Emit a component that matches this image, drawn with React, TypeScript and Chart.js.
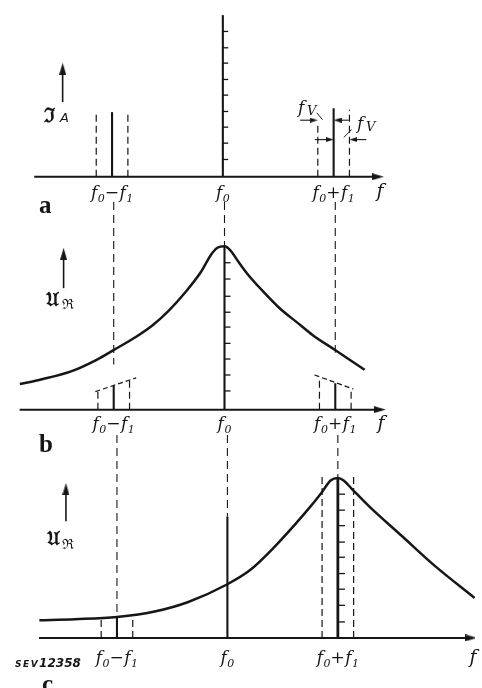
import React, { useEffect, useRef } from "react";
import { Chart, registerables } from "chart.js";

Chart.register(...registerables);

const W = 482;
const H = 688;
const INK = "#161616";

// ---------- data (frequencies in units of f_V, f0 = 0) ----------
const F1 = 7;
const FV = 1;
const centerFreqs = [-F1, 0, F1];
const sideFreqs = [-F1 - FV, -F1 + FV, F1 - FV, F1 + FV];
const freqTickLabels = ["f₀−f₁", "f₀", "f₀+f₁"];
const axisLabel = "f";

// panel a – current spectrum
const aCenterHeights = [4.0, 10.0, 4.24];
const aSideHeights = [3.94, 4.0, 3.23, 4.14];
const aTickValues = [1.07, 2.08, 3.07, 4.04, 5.05, 6.02, 7.03, 7.98, 8.99];

// panel b – resonance curve tuned to f0
const bCurveFreq = [-12.93, -11.72, -9.65, -8.02, -6.99, -5.58, -4.54, -3.52, -2.5, -1.47, -0.86, -0.45, 0, 0.37, 0.88, 1.49, 2.52, 3.54, 4.56, 5.58, 7.01, 8.85];
const bCurveValue = [1.6, 1.86, 2.41, 3.15, 3.74, 4.56, 5.28, 6.2, 7.32, 8.65, 9.69, 10.14, 10.23, 9.98, 9.26, 8.45, 7.32, 6.3, 5.48, 4.66, 3.72, 2.5];
const bCenterHeights = [1.5, 10.23, 1.65];
const bSideHeights = [1.17, 1.85, 1.94, 1.33];
const bEnvelopeLeftFreq = [-8.16, -5.58];
const bEnvelopeLeftValue = [1.13, 1.99];
const bEnvelopeRightFreq = [5.69, 8.14];
const bEnvelopeRightValue = [2.17, 1.29];
const bTickValues = [1.17, 2.17, 3.17, 4.15, 5.17, 6.1, 7.1, 8.18, 9.2];

// panel c – resonance curve tuned to f0+f1
const cCurveFreq = [-11.92, -9.66, -7.0, -4.54, -2.48, 0, 1.42, 2.85, 4.91, 5.93, 6.54, 7.0, 7.37, 7.88, 9.0, 11.06, 13.11, 15.67];
const cCurveValue = [1.1, 1.17, 1.31, 1.67, 2.25, 3.36, 4.23, 5.56, 7.81, 9.04, 9.86, 10.02, 9.86, 9.34, 8.22, 6.38, 4.54, 2.5];
const cCenterHeights = [1.31, 7.6, 10.02];
const cSideHeights = [1.25, 1.4, 10.1, 10.1];
const cTickValues = [1.0, 2.04, 3.05, 4.03, 5.05, 6.0, 7.03, 8.0, 9.0];

// connecting guide lines between the panels
const guideUpperFrom = 13.0; // panel b units
const guideUpperTo = [2.82, 10.23, 3.56];
const guideLowerFrom = 12.7; // panel c units
const guideLowerTo = [1.31, 7.6, 10.02];

// ---------- layout (pixel mapping of each panel) ----------
const PANELS = {
  a: { xo: 222.3, xp: 16.3, yo: 173.3, yp: 16.5, axisFrom: 28, axisTip: 388 },
  b: { xo: 224, xp: 16.3, yo: 411, yp: 16.3, axisFrom: 13, axisTip: 390 },
  c: { xo: 227, xp: 16.25, yo: 644, yp: 16.3, axisFrom: 33, axisTip: 484 },
};

const hScale = (o: number, p: number) => ({ type: "linear", display: false, bounds: "data", min: -o / p, max: (W - o) / p });
const vScale = (o: number, p: number) => ({ type: "linear", display: false, bounds: "data", min: -(H - o) / p, max: o / p });

function makeArrow(len: number, wid: number) {
  const c = document.createElement("canvas");
  c.width = wid;
  c.height = len;
  const g = c.getContext("2d")!;
  g.fillStyle = INK;
  g.beginPath();
  g.moveTo(wid / 2, 0);
  g.lineTo(wid, len);
  g.lineTo(0, len);
  g.closePath();
  g.fill();
  return c;
}

type Pt = { x: number; y: number };

function seg(points: Pt[], p: "a" | "b" | "c", style: any = {}) {
  return {
    data: points,
    xAxisID: "x" + p,
    yAxisID: "y" + p,
    showLine: true,
    borderColor: INK,
    backgroundColor: INK,
    borderWidth: 2,
    pointRadius: 0,
    fill: false,
    ...style,
  };
}

const SOLID = { borderWidth: 2.1 };
const DASH = { borderWidth: 1.2, borderDash: [7, 4] };
const GUIDE = { borderWidth: 1.1, borderDash: [8, 5] };
const TICK = { borderWidth: 1.3 };
const CURVE = { borderWidth: 2.5, cubicInterpolationMode: "monotone" };

function arrowSeg(from: Pt, tip: Pt, dir: "h" | "v", p: "a" | "b" | "c", img: HTMLCanvasElement, style: any = {}) {
  const P = PANELS[p];
  const half = img.height / 2;
  let end: Pt;
  let rot: number;
  if (dir === "h") {
    const s = Math.sign(tip.x - from.x);
    end = { x: tip.x - (s * half) / P.xp, y: tip.y };
    rot = s > 0 ? 90 : 270;
  } else {
    const s = Math.sign(tip.y - from.y);
    end = { x: tip.x, y: tip.y - (s * half) / P.yp };
    rot = s > 0 ? 0 : 180;
  }
  return seg([from, end], p, {
    borderWidth: 1.6,
    ...style,
    pointRadius: [0, 5],
    pointStyle: img,
    pointRotation: rot,
  });
}

function buildDatasets() {
  const big = makeArrow(12, 7);
  const small = makeArrow(8, 5);
  const ds: any[] = [];
  const u = (p: "a" | "b" | "c", px: number) => (px - PANELS[p].xo) / PANELS[p].xp;
  const v = (p: "a" | "b" | "c", py: number) => (PANELS[p].yo - py) / PANELS[p].yp;

  // ---- panel a ----
  ds.push(arrowSeg({ x: u("a", PANELS.a.axisFrom), y: 0 }, { x: u("a", PANELS.a.axisTip), y: 0 }, "h", "a", big, { borderWidth: 2 }));
  centerFreqs.forEach((f, i) => ds.push(seg([{ x: f, y: 0 }, { x: f, y: aCenterHeights[i] }], "a", SOLID)));
  sideFreqs.forEach((f, i) => ds.push(seg([{ x: f, y: 0 }, { x: f, y: aSideHeights[i] }], "a", DASH)));
  aTickValues.forEach((t) => ds.push(seg([{ x: 0, y: t }, { x: 0.34, y: t }], "a", TICK)));
  ds.push(arrowSeg({ x: u("a", 57.3), y: v("a", 97) }, { x: u("a", 57.3), y: v("a", 57) }, "v", "a", big, { borderWidth: 1.6 }));
  // f_V dimension arrows
  ds.push(arrowSeg({ x: u("a", 302), y: 3.5 }, { x: sideFreqs[2], y: 3.5 }, "h", "a", small, { borderWidth: 1.1 }));
  ds.push(arrowSeg({ x: u("a", 352), y: 3.5 }, { x: F1, y: 3.5 }, "h", "a", small, { borderWidth: 1.1 }));
  ds.push(arrowSeg({ x: u("a", 317), y: 2.3 }, { x: F1, y: 2.3 }, "h", "a", small, { borderWidth: 1.1 }));
  ds.push(arrowSeg({ x: u("a", 370), y: 2.3 }, { x: sideFreqs[3], y: 2.3 }, "h", "a", small, { borderWidth: 1.1 }));
  ds.push(seg([{ x: u("a", 319), y: v("a", 108) }, { x: u("a", 325), y: v("a", 115) }], "a", { borderWidth: 1 }));
  ds.push(seg([{ x: u("a", 347), y: v("a", 133) }, { x: u("a", 355), y: v("a", 125) }], "a", { borderWidth: 1 }));

  // ---- panel b ----
  ds.push(arrowSeg({ x: u("b", PANELS.b.axisFrom), y: 0 }, { x: u("b", PANELS.b.axisTip), y: 0 }, "h", "b", big, { borderWidth: 2 }));
  ds.push(seg(bCurveFreq.map((f, i) => ({ x: f, y: bCurveValue[i] })), "b", CURVE));
  centerFreqs.forEach((f, i) => ds.push(seg([{ x: f, y: 0 }, { x: f, y: bCenterHeights[i] }], "b", SOLID)));
  sideFreqs.forEach((f, i) => ds.push(seg([{ x: f, y: 0 }, { x: f, y: bSideHeights[i] }], "b", DASH)));
  ds.push(seg(bEnvelopeLeftFreq.map((f, i) => ({ x: f, y: bEnvelopeLeftValue[i] })), "b", { borderWidth: 1.2, borderDash: [5, 3] }));
  ds.push(seg(bEnvelopeRightFreq.map((f, i) => ({ x: f, y: bEnvelopeRightValue[i] })), "b", { borderWidth: 1.2, borderDash: [5, 3] }));
  bTickValues.forEach((t) => ds.push(seg([{ x: 0, y: t }, { x: 0.38, y: t }], "b", TICK)));
  ds.push(arrowSeg({ x: u("b", 58.3), y: v("b", 287) }, { x: u("b", 58.3), y: v("b", 246) }, "v", "b", big, { borderWidth: 1.6 }));
  centerFreqs.forEach((f, i) => ds.push(seg([{ x: f, y: guideUpperFrom }, { x: f, y: guideUpperTo[i] }], "b", GUIDE)));

  // ---- panel c ----
  ds.push(arrowSeg({ x: u("c", PANELS.c.axisFrom), y: 0 }, { x: u("c", PANELS.c.axisTip), y: 0 }, "h", "c", big, { borderWidth: 2 }));
  ds.push(seg(cCurveFreq.map((f, i) => ({ x: f, y: cCurveValue[i] })), "c", CURVE));
  centerFreqs.forEach((f, i) => ds.push(seg([{ x: f, y: 0 }, { x: f, y: cCenterHeights[i] }], "c", { borderWidth: i === 2 ? 2.8 : 2.1 })));
  sideFreqs.forEach((f, i) => ds.push(seg([{ x: f, y: 0 }, { x: f, y: cSideHeights[i] }], "c", DASH)));
  cTickValues.forEach((t) => ds.push(seg([{ x: F1, y: t }, { x: F1 + 0.45, y: t }], "c", TICK)));
  ds.push(arrowSeg({ x: u("c", 60.7), y: v("c", 525) }, { x: u("c", 60.7), y: v("c", 486) }, "v", "c", big, { borderWidth: 1.6 }));
  centerFreqs.forEach((f, i) => ds.push(seg([{ x: f, y: guideLowerFrom }, { x: f, y: guideLowerTo[i] }], "c", GUIDE)));

  return ds;
}

const SUB: Record<string, string> = { "₀": "0", "₁": "1" };

function drawRich(ctx: CanvasRenderingContext2D, text: string, cx: number, cy: number, size: number) {
  const main = `italic ${size}px "DejaVu Serif"`;
  const subSize = Math.round(size * 0.64);
  const sub = `italic ${subSize}px "DejaVu Serif"`;
  const parts = [...text].map((ch) => (SUB[ch] ? { t: SUB[ch], s: true } : { t: ch, s: false }));
  let total = 0;
  const widths = parts.map((p) => {
    ctx.font = p.s ? sub : main;
    const w = ctx.measureText(p.t).width + (p.s ? 0 : 0.5);
    total += w;
    return w;
  });
  let x = cx - total / 2;
  ctx.textAlign = "left";
  ctx.textBaseline = "alphabetic";
  const base = cy + size * 0.32;
  parts.forEach((p, i) => {
    ctx.font = p.s ? sub : main;
    ctx.fillText(p.t, x, p.s ? base + size * 0.22 : base);
    x += widths[i];
  });
}

const textPlugin = {
  id: "textLabels",
  afterDraw(chart: any) {
    const ctx: CanvasRenderingContext2D = chart.ctx;
    ctx.save();
    ctx.fillStyle = INK;
    const labelDy: Record<string, number> = { a: 15.7, b: 14, c: 20 };
    const fX: Record<string, number> = { a: 380, b: 381, c: 473 };
    (["a", "b", "c"] as const).forEach((p) => {
      const xs = chart.scales["x" + p];
      const ys = chart.scales["y" + p];
      const by = ys.getPixelForValue(0) + labelDy[p];
      centerFreqs.forEach((f, i) => drawRich(ctx, freqTickLabels[i], xs.getPixelForValue(f), by, 17));
      ctx.font = `italic 19px "DejaVu Serif"`;
      ctx.textAlign = "center";
      ctx.textBaseline = "middle";
      ctx.fillText(axisLabel, fX[p], by);
    });

    // panel letters
    ctx.font = `bold 25px "Liberation Serif"`;
    ctx.textAlign = "left";
    ctx.textBaseline = "alphabetic";
    ctx.fillText("a", 39, 213);
    ctx.fillText("b", 39, 452);
    ctx.fillText("c", 42, 692);

    // quantity labels
    ctx.font = `bold 20px "DejaVu Serif"`;
    ctx.fillText("ℑ", 44, 122);
    ctx.font = `italic 13px "DejaVu Sans"`;
    ctx.fillText("A", 60, 122);

    ctx.font = `bold 20px "DejaVu Serif"`;
    ctx.fillText("𝔘", 46, 306);
    ctx.font = `14px "DejaVu Serif"`;
    ctx.fillText("ℜ", 62, 309);

    ctx.font = `bold 20px "DejaVu Serif"`;
    ctx.fillText("𝔘", 47, 545);
    ctx.font = `14px "DejaVu Serif"`;
    ctx.fillText("ℜ", 62, 549);

    // f_V labels
    ctx.font = `italic 17px "DejaVu Serif"`;
    ctx.fillText("f", 298, 113);
    ctx.fillText("f", 357, 129);
    ctx.font = `italic 13px "DejaVu Serif"`;
    ctx.fillText("V", 307, 115);
    ctx.fillText("V", 366, 131);

    // figure number
    ctx.font = `bold italic 9px "DejaVu Sans"`;
    let x = 15;
    for (const ch of "SEV") {
      ctx.fillText(ch, x, 667);
      x += ctx.measureText(ch).width + 1.5;
    }
    ctx.font = `bold italic 12px "DejaVu Sans"`;
    for (const ch of "12358") {
      ctx.fillText(ch, x, 667);
      x += ctx.measureText(ch).width;
    }
    ctx.restore();
  },
};

export default function App() {
  const ref = useRef<HTMLCanvasElement>(null);
  useEffect(() => {
    const chart = new Chart(ref.current!, {
      type: "scatter",
      data: { datasets: buildDatasets() },
      options: {
        responsive: false,
        animation: false,
        events: [],
        layout: { padding: 0 },
        plugins: { legend: { display: false }, tooltip: { enabled: false }, title: { display: false } },
        scales: {
          xa: hScale(PANELS.a.xo, PANELS.a.xp),
          ya: vScale(PANELS.a.yo, PANELS.a.yp),
          xb: hScale(PANELS.b.xo, PANELS.b.xp),
          yb: vScale(PANELS.b.yo, PANELS.b.yp),
          xc: hScale(PANELS.c.xo, PANELS.c.xp),
          yc: vScale(PANELS.c.yo, PANELS.c.yp),
        } as any,
      } as any,
      plugins: [textPlugin],
    });
    return () => chart.destroy();
  }, []);
  return (
    <div style={{ position: "absolute", left: 0, top: 0, width: W, height: H, background: "#fff" }}>
      <canvas ref={ref} width={W} height={H} style={{ display: "block", width: W, height: H }} />
    </div>
  );
}
